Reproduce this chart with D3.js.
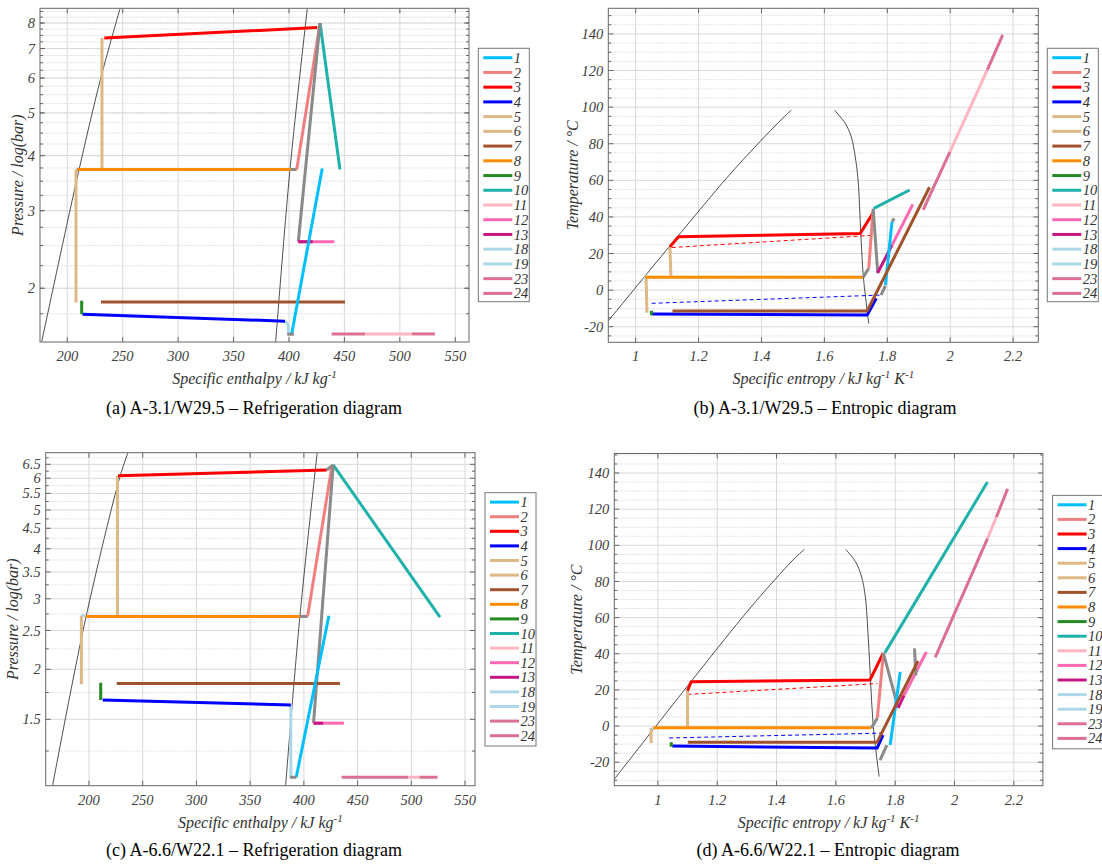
<!DOCTYPE html>
<html>
<head>
<meta charset="utf-8">
<script src="https://cdn.jsdelivr.net/npm/d3@7"></script>
<style>
body { margin: 0; background: #fff; }
svg text { font-family: "Liberation Serif", "Times New Roman", serif; }
</style>
</head>
<body>
<svg id="fig" width="1102" height="866"></svg>
<script>
// legend entries, in the order of the legend box
const legendIds = ["1","2","3","4","5","6","7","8","9","10","11","12","13","18","19","23","24"];
const colours = {
  "1": "#00bfff", "2": "#f08080", "3": "#ff0000", "4": "#0000ff", "5": "#deb887",
  "6": "#deb887", "7": "#a0522d", "8": "#ff8c00", "9": "#228b22", "10": "#20b2aa",
  "11": "#ffb6c1", "12": "#ff69b4", "13": "#c71585", "18": "#add8e6", "19": "#add8e6",
  "23": "#db7093", "24": "#db7093", "c": "#8a8a8a"
};

const xTicksH = [200, 250, 300, 350, 400, 450, 500, 550];
const xTicksS = [1, 1.2, 1.4, 1.6, 1.8, 2, 2.2];
const yTicksA = [2, 3, 4, 5, 6, 7, 8];
const yTicksC = [1.5, 2, 2.5, 3, 3.5, 4, 4.5, 5, 5.5, 6, 6.5];
const yTicksT = [-20, 0, 20, 40, 60, 80, 100, 120, 140];

// (a) h [kJ/kg], p [bar]
const satLiqA = [[176.9, 1.51], [208.5, 3.52], [230.4, 6.02], [247.6, 8.62]];
const satVapA = [[388, 1.51], [400.9, 3.72], [416.5, 8.62]];
const linesA = [
  ["6", [[207.9, 3.72], [207.9, 1.856]]],
  ["19", [[208, 3.75], [210, 3.72]]],
  ["5", [[231.3, 7.40], [231.3, 3.72]]],
  ["3", [[233.4, 7.40], [425.5, 7.81]]],
  ["8", [[208.8, 3.72], [401.8, 3.72]]],
  ["c", [[401.8, 3.72], [407, 3.72]]],
  ["2", [[407, 3.72], [428, 7.98]]],
  ["10", [[428, 8.0], [446, 3.72]]],
  ["c", [[428, 8.0], [408.4, 2.55]]],
  ["12", [[408.4, 2.55], [440.9, 2.55]]],
  ["13", [[408.4, 2.55], [421.4, 2.55]]],
  ["7", [[230.4, 1.861], [450.5, 1.861]]],
  ["1", [[430, 3.74], [402.4, 1.573]]],
  ["18", [[396.4, 1.684], [399.4, 1.65], [399.4, 1.573]]],
  ["c", [[398.5, 1.573], [404.5, 1.573]]],
  ["4", [[213.6, 1.746], [396.4, 1.684]]],
  ["9", [[213, 1.874], [213, 1.746]]],
  ["23", [[438.5, 1.575], [468.6, 1.575]]],
  ["11", [[468.6, 1.575], [510.7, 1.575]]],
  ["24", [[510.7, 1.575], [531.7, 1.575]]]
];

// (b) s [kJ/kg K], T [degC]
const satLiqB = [[0.913, -16.8], [1.284, 60.2], [1.390, 80.2], [1.462, 93], [1.495, 98.4]];
const satVapB = [[1.6315, 98.4], [1.666, 91.2], [1.685, 84], [1.697, 74], [1.707, 60.2], [1.716, 30], [1.724, 7], [1.741, -18.2]];
const dashedB = [
  ["3", [[1.115, 23.3], [1.757, 30]]],
  ["4", [[1.051, -7.2], [1.778, -2.7]]]
];
const linesB = [
  ["5", [[1.109, 23.7], [1.112, 7.3]]],
  ["6", [[1.033, 7], [1.036, -12.4]]],
  ["19", [[1.028, 6], [1.036, 8]]],
  ["3", [[1.109, 23.7], [1.136, 29.2], [1.714, 31.0], [1.755, 42.3]]],
  ["8", [[1.03, 7], [1.723, 7]]],
  ["c", [[1.723, 7], [1.741, 11.9]]],
  ["2", [[1.741, 11.9], [1.755, 44.2]]],
  ["c", [[1.755, 44.5], [1.7697, 9.2]]],
  ["10", [[1.757, 44.7], [1.871, 54.7]]],
  ["13", [[1.7695, 9.5], [1.815, 24.6]]],
  ["12", [[1.815, 24.6], [1.881, 46.9]]],
  ["1", [[1.794, 2.8], [1.815, 37.4]]],
  ["c", [[1.815, 37.4], [1.822, 39.2]]],
  ["c", [[1.78, -2.7], [1.794, 2.4]]],
  ["4", [[1.051, -13.1], [1.736, -13.6], [1.765, -4.5]]],
  ["9", [[1.05, -11.3], [1.05, -13.7]]],
  ["7", [[1.117, -11.4], [1.736, -11.4], [1.934, 56.2]]],
  ["23", [[1.914, 43.8], [1.999, 75.6]]],
  ["11", [[1.999, 75.6], [2.118, 120.3]]],
  ["24", [[2.118, 120.3], [2.167, 139.5]]]
];

// (c) h [kJ/kg], p [bar]
const satLiqC = [[166.1, 1.024], [196.6, 2.656], [229.1, 6.09], [236.3, 6.95]];
const satVapC = [[383, 1.024], [396.3, 2.71], [412.4, 6.95]];
const linesC = [
  ["6", [[192.9, 2.72], [192.9, 1.835]]],
  ["19", [[193, 2.74], [196.5, 2.71]]],
  ["5", [[226.5, 6.09], [226.5, 2.723]]],
  ["3", [[227, 6.09], [421.2, 6.29]]],
  ["c", [[421.2, 6.29], [427.3, 6.48]]],
  ["8", [[196.9, 2.71], [396.3, 2.71]]],
  ["c", [[396.3, 2.71], [403.5, 2.71]]],
  ["2", [[403.5, 2.71], [425.8, 6.36]]],
  ["10", [[427.3, 6.48], [526.7, 2.699]]],
  ["c", [[427.3, 6.48], [409, 1.467]]],
  ["12", [[409, 1.467], [437.2, 1.467]]],
  ["13", [[409, 1.467], [417.9, 1.467]]],
  ["7", [[225.9, 1.842], [433.6, 1.842]]],
  ["1", [[423.3, 2.72], [392.9, 1.075]]],
  ["18", [[387.9, 1.629], [387.9, 1.075]]],
  ["c", [[387, 1.075], [393, 1.075]]],
  ["4", [[212.7, 1.677], [387.9, 1.629]]],
  ["9", [[210.9, 1.852], [210.9, 1.677]]],
  ["23", [[435.2, 1.075], [497.1, 1.075]]],
  ["11", [[497.1, 1.075], [507.7, 1.075]]],
  ["24", [[507.7, 1.075], [524.4, 1.075]]]
];

// (d) s [kJ/kg K], T [degC]
const satLiqD = [[0.853, -29.4], [1.285, 60.2], [1.390, 80.2], [1.462, 93], [1.494, 97.8]];
const satVapD = [[1.633, 97.8], [1.666, 91], [1.686, 83], [1.699, 72], [1.707, 55], [1.716, 28], [1.726, 0], [1.746, -28]];
const dashedD = [
  ["3", [[1.1, 17.5], [1.74, 23.5]]],
  ["4", [[1.038, -6.6], [1.755, -3.9]]]
];
const linesD = [
  ["5", [[1.1, 19.5], [1.1, -1]]],
  ["6", [[0.977, -1], [0.977, -9.4]]],
  ["19", [[0.982, -2], [0.99, -0.5]]],
  ["3", [[1.1, 19.5], [1.112, 24.5], [1.715, 25.5], [1.76, 40.5]]],
  ["8", [[0.985, -1], [1.72, -1]]],
  ["c", [[1.72, -1], [1.74, 4.5]]],
  ["2", [[1.74, 4.5], [1.76, 40]]],
  ["10", [[1.765, 40.5], [2.111, 135]]],
  ["c", [[1.76, 40.5], [1.81, 10]]],
  ["13", [[1.81, 10], [1.83, 17]]],
  ["12", [[1.83, 17], [1.905, 41]]],
  ["1", [[1.783, -10.5], [1.817, 29.9]]],
  ["c", [[1.865, 43], [1.87, 28]]],
  ["c", [[1.749, -18.8], [1.772, -10.5]]],
  ["4", [[1.048, -11.1], [1.739, -12.2], [1.759, -5]]],
  ["9", [[1.045, -8.9], [1.045, -11.4]]],
  ["7", [[1.101, -8.9], [1.739, -8.9], [1.877, 36]]],
  ["23", [[1.935, 38], [2.111, 103.7]]],
  ["11", [[2.111, 103.7], [2.141, 115.6]]],
  ["24", [[2.141, 115.6], [2.179, 131.2]]]
];

const svg = d3.select("#fig");
let clipN = 0;

function drawPanel(o) {
  const g = svg.append("g");
  const x = d3.scaleLinear().domain(o.xDom).range([o.left, o.right]);
  const y = (o.log ? d3.scaleLog() : d3.scaleLinear()).domain(o.yDom).range([o.bottom, o.top]);

  // grid
  g.selectAll(".ymin").data(o.yMinor).enter().append("line")
    .attr("x1", o.left).attr("x2", o.right)
    .attr("y1", d => y(d)).attr("y2", d => y(d))
    .attr("stroke", "#e3e3e3").attr("stroke-width", 1).attr("stroke-dasharray", "2,1");
  g.selectAll(".ymaj").data(o.yTicks).enter().append("line")
    .attr("x1", o.left).attr("x2", o.right)
    .attr("y1", d => y(d)).attr("y2", d => y(d))
    .attr("stroke", "#d9d9d9").attr("stroke-width", 1);
  g.selectAll(".xmaj").data(o.xTicks).enter().append("line")
    .attr("y1", o.top).attr("y2", o.bottom)
    .attr("x1", d => x(d)).attr("x2", d => x(d))
    .attr("stroke", "#d9d9d9").attr("stroke-width", 1);

  // curves
  const id = "clip" + (clipN++);
  svg.append("clipPath").attr("id", id).append("rect")
    .attr("x", o.left).attr("y", o.top).attr("width", o.right - o.left).attr("height", o.bottom - o.top);
  const plot = g.append("g").attr("clip-path", "url(#" + id + ")");
  const sat = d3.line().x(d => x(d[0])).y(d => y(d[1])).curve(d3.curveCatmullRom.alpha(0.5));
  const line = d3.line().x(d => x(d[0])).y(d => y(d[1]));

  [o.satLiq, o.satVap].forEach(c => {
    plot.append("path").attr("d", sat(c))
      .attr("fill", "none").attr("stroke", "#222").attr("stroke-width", 0.8);
  });
  (o.dashed || []).forEach(s => {
    plot.append("path").attr("d", line(s[1])).attr("fill", "none")
      .attr("stroke", colours[s[0]]).attr("stroke-width", 1).attr("stroke-dasharray", "4,3");
  });
  o.lines.forEach(s => {
    plot.append("path").attr("d", line(s[1])).attr("fill", "none")
      .attr("stroke", colours[s[0]]).attr("stroke-width", 3).attr("stroke-linejoin", "round");
  });

  // box and ticks (inward, all four sides)
  g.append("rect").attr("x", o.left).attr("y", o.top)
    .attr("width", o.right - o.left).attr("height", o.bottom - o.top)
    .attr("fill", "none").attr("stroke", "#666").attr("stroke-width", 1);
  const tk = g.append("g").attr("stroke", "#666").attr("stroke-width", 1);
  o.xTicks.forEach(d => {
    tk.append("line").attr("x1", x(d)).attr("x2", x(d)).attr("y1", o.bottom).attr("y2", o.bottom - 5);
    tk.append("line").attr("x1", x(d)).attr("x2", x(d)).attr("y1", o.top).attr("y2", o.top + 5);
  });
  o.yTicks.forEach(d => {
    tk.append("line").attr("y1", y(d)).attr("y2", y(d)).attr("x1", o.left).attr("x2", o.left + 5);
    tk.append("line").attr("y1", y(d)).attr("y2", y(d)).attr("x1", o.right).attr("x2", o.right - 5);
  });
  o.yMinor.forEach(d => {
    tk.append("line").attr("y1", y(d)).attr("y2", y(d)).attr("x1", o.left).attr("x2", o.left + 3);
    tk.append("line").attr("y1", y(d)).attr("y2", y(d)).attr("x1", o.right).attr("x2", o.right - 3);
  });

  // tick labels
  g.selectAll(".xl").data(o.xTicks).enter().append("text")
    .attr("x", d => x(d)).attr("y", o.bottom + 19)
    .attr("text-anchor", "middle").attr("font-size", 14.5).attr("font-style", "italic")
    .attr("fill", "#404040").text(d => String(d));
  g.selectAll(".yl").data(o.yTicks).enter().append("text")
    .attr("x", o.left - 5).attr("y", d => y(d)).attr("dy", "0.35em")
    .attr("text-anchor", "end").attr("font-size", 14.5).attr("font-style", "italic")
    .attr("fill", "#404040").text(d => String(d));

  // axis titles
  const xt = g.append("text").attr("x", (o.left + o.right) / 2).attr("y", o.bottom + 42)
    .attr("text-anchor", "middle").attr("font-size", 16).attr("font-style", "italic").attr("fill", "#333");
  o.xTitle.forEach(p => {
    if (p[1]) xt.append("tspan").attr("dy", -6).attr("font-size", 11).text(p[0]);
    else xt.append("tspan").attr("dy", p[2] ? 6 : 0).text(p[0]);
  });
  g.append("text")
    .attr("transform", "translate(" + o.yTitleX + "," + (o.top + o.bottom) / 2 + ") rotate(-90)")
    .attr("text-anchor", "middle").attr("font-size", 16).attr("font-style", "italic")
    .attr("fill", "#333").text(o.yTitle);

  // legend
  const L = o.legend;
  const lg = g.append("g");
  lg.append("rect").attr("x", L.x).attr("y", L.y).attr("width", L.w).attr("height", L.h)
    .attr("fill", "#fff").attr("stroke", "#777").attr("stroke-width", 1);
  legendIds.forEach((k, i) => {
    const yy = L.y + 9.4 + i * L.step;
    lg.append("line").attr("x1", L.x + 5).attr("x2", L.x + 34).attr("y1", yy).attr("y2", yy)
      .attr("stroke", colours[k]).attr("stroke-width", 3);
    lg.append("text").attr("x", L.x + 35.5).attr("y", yy).attr("dy", "0.35em")
      .attr("font-size", 14.5).attr("font-style", "italic").attr("fill", "#333").text(k);
  });

  // caption
  g.append("text").attr("x", o.capX).attr("y", o.capY).attr("text-anchor", "middle")
    .attr("font-size", 18).attr("fill", "#000").text(o.caption);
}

const hTitle = [["Specific enthalpy / kJ kg"], ["-1", true]];
const sTitle = [["Specific entropy / kJ kg"], ["-1", true], [" K", false, true], ["-1", true]];
const minorP = d3.range(1.25, 9, 0.25);
const minorT = d3.range(-30, 155, 5);

drawPanel({
  left: 40, right: 469, top: 8.3, bottom: 342,
  xDom: [175.4, 562.4], yDom: [1.51, 8.64], log: true,
  xTicks: xTicksH, yTicks: yTicksA, yMinor: minorP.filter(d => d >= 1.51 && d <= 8.64),
  satLiq: satLiqA, satVap: satVapA, lines: linesA,
  xTitle: hTitle, yTitle: "Pressure / log(bar)", yTitleX: 23,
  legend: { x: 478.3, y: 48.3, w: 51, h: 253.4, step: 14.73 },
  caption: "(a) A-3.1/W29.5 \u2013 Refrigeration diagram", capX: 254, capY: 414
});
drawPanel({
  left: 608.3, right: 1038.3, top: 8.3, bottom: 342.3,
  xDom: [0.913, 2.28], yDom: [-28.5, 154], log: false,
  xTicks: xTicksS, yTicks: yTicksT, yMinor: minorT.filter(d => d % 20 !== 0 && d >= -28.5 && d <= 154),
  satLiq: satLiqB, satVap: satVapB, lines: linesB, dashed: dashedB,
  xTitle: sTitle, yTitle: "Temperature / \u00b0C", yTitleX: 578,
  legend: { x: 1047.3, y: 48.3, w: 51, h: 253.4, step: 14.73 },
  caption: "(b) A-3.1/W29.5 \u2013 Entropic diagram", capX: 825, capY: 414
});
drawPanel({
  left: 45.7, right: 475, top: 452.7, bottom: 785.7,
  xDom: [159.7, 559.3], yDom: [1.024, 6.95], log: true,
  xTicks: xTicksH, yTicks: yTicksC, yMinor: minorP.filter(d => d % 0.5 !== 0 && d >= 1.024 && d <= 6.95),
  satLiq: satLiqC, satVap: satVapC, lines: linesC,
  xTitle: hTitle, yTitle: "Pressure / log(bar)", yTitleX: 18,
  legend: { x: 485, y: 492.7, w: 51, h: 253.3, step: 14.6 },
  caption: "(c) A-6.6/W22.1 \u2013 Refrigeration diagram", capX: 254, capY: 856
});
drawPanel({
  left: 614.3, right: 1042.9, top: 453.5, bottom: 785.7,
  xDom: [0.853, 2.298], yDom: [-33, 150.8], log: false,
  xTicks: xTicksS, yTicks: yTicksT, yMinor: minorT.filter(d => d % 20 !== 0 && d >= -33 && d <= 150.8),
  satLiq: satLiqD, satVap: satVapD, lines: linesD, dashed: dashedD,
  xTitle: sTitle, yTitle: "Temperature / \u00b0C", yTitleX: 582,
  legend: { x: 1052.6, y: 495.4, w: 51, h: 253.4, step: 14.6 },
  caption: "(d) A-6.6/W22.1 \u2013 Entropic diagram", capX: 828, capY: 856
});
</script>
</body>
</html>
